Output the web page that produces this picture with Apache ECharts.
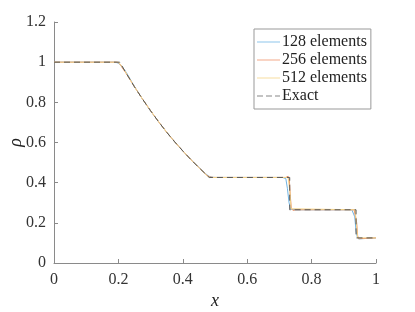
<!DOCTYPE html>
<html><head><meta charset="utf-8">
<script src="https://cdn.jsdelivr.net/npm/echarts@6/dist/echarts.min.js"></script>
<style>html,body{margin:0;padding:0;background:#fff}#c{width:415px;height:312px}</style>
</head><body><div id="c"></div>
<script>
var seriesNames = ['128 elements', '256 elements', '512 elements', 'Exact'];
var xTicks = [0, 0.2, 0.4, 0.6, 0.8, 1];
var yTicks = [0, 0.2, 0.4, 0.6, 0.8, 1, 1.2];

var x128 = [0, 0.19, 0.2, 0.21, 0.225, 0.25, 0.275, 0.3, 0.325, 0.35, 0.375, 0.4, 0.425, 0.45, 0.47, 0.48, 0.49, 0.5, 0.71, 0.72, 0.725, 0.73, 0.735, 0.74, 0.75, 0.925, 0.93, 0.934, 0.938, 0.942, 0.946, 0.95, 1];
var y128 = [1, 1, 0.995, 0.982, 0.948, 0.878, 0.816, 0.757, 0.703, 0.651, 0.603, 0.558, 0.515, 0.476, 0.446, 0.433, 0.427, 0.426, 0.426, 0.42, 0.37, 0.3, 0.268, 0.262, 0.265, 0.265, 0.262, 0.23, 0.16, 0.13, 0.12, 0.126, 0.125];

var x256 = [0, 0.195, 0.203, 0.212, 0.225, 0.25, 0.275, 0.3, 0.325, 0.35, 0.375, 0.4, 0.425, 0.45, 0.475, 0.485, 0.495, 0.72, 0.727, 0.731, 0.734, 0.737, 0.742, 0.75, 0.932, 0.937, 0.94, 0.943, 0.946, 0.95, 1];
var y256 = [1, 1, 0.995, 0.972, 0.942, 0.877, 0.816, 0.758, 0.703, 0.651, 0.603, 0.558, 0.515, 0.475, 0.436, 0.428, 0.426, 0.426, 0.432, 0.41, 0.33, 0.272, 0.262, 0.265, 0.265, 0.27, 0.2, 0.135, 0.121, 0.125, 0.125];

var x512 = [0, 0.2, 0.206, 0.215, 0.225, 0.25, 0.275, 0.3, 0.325, 0.35, 0.375, 0.4, 0.425, 0.45, 0.478, 0.488, 0.727, 0.731, 0.733, 0.736, 0.74, 0.935, 0.938, 0.94, 0.943, 1];
var y512 = [1, 1, 0.996, 0.97, 0.943, 0.877, 0.816, 0.758, 0.703, 0.651, 0.603, 0.558, 0.515, 0.475, 0.43, 0.426, 0.426, 0.428, 0.35, 0.27, 0.265, 0.265, 0.268, 0.18, 0.125, 0.125];

var xExact = [0, 0.204, 0.225, 0.25, 0.275, 0.3, 0.325, 0.35, 0.375, 0.4, 0.425, 0.45, 0.482, 0.732, 0.732, 0.938, 0.938, 1];
var yExact = [1, 1, 0.943, 0.877, 0.816, 0.758, 0.703, 0.651, 0.603, 0.558, 0.515, 0.475, 0.426, 0.426, 0.265, 0.265, 0.125, 0.125];

function pairs(xs, ys) { return xs.map(function (x, i) { return [x, ys[i]]; }); }

var font = "'Liberation Serif', 'Times New Roman', 'DejaVu Serif', serif";
var axisCol = '#8a8a8a';
var solidIcon = 'path://M0,0H23V1H0Z';
var dashIcon = 'path://M0,0H6V1H0Z M9,0H15V1H9Z M18,0H23V1H18Z';
var chart = echarts.init(document.getElementById('c'), null, {renderer: 'canvas'});
chart.setOption({
  animation: false,
  backgroundColor: '#fff',
  grid: {left: 54, right: 39, top: 22, bottom: 49, outerBoundsMode: 'none', containLabel: false},
  legend: {
    orient: 'vertical', left: 254, top: 29,
    data: [
      {name: seriesNames[0], icon: solidIcon},
      {name: seriesNames[1], icon: solidIcon},
      {name: seriesNames[2], icon: solidIcon},
      {name: seriesNames[3], icon: dashIcon}
    ],
    backgroundColor: '#fff', borderColor: '#999', borderWidth: 1,
    padding: [5, 4, 5, 3], itemGap: 2, itemWidth: 23, itemHeight: 1,
    textStyle: {fontFamily: font, fontSize: 16, color: '#222', padding: [0, 0, 0, -3]}
  },
  xAxis: {
    type: 'value', min: 0, max: 1, interval: 0.2,
    name: 'x', nameLocation: 'middle', nameGap: 29, nameMoveOverlap: false,
    nameTextStyle: {fontFamily: font, fontSize: 18, fontStyle: 'italic', color: '#222'},
    axisLine: {lineStyle: {color: axisCol}},
    axisTick: {inside: true, length: 4, lineStyle: {color: axisCol}},
    axisLabel: {fontFamily: font, fontSize: 16, color: '#333', margin: 9,
      formatter: function (v) { return String(+v.toFixed(1)); }},
    splitLine: {show: false}
  },
  yAxis: {
    type: 'value', min: 0, max: 1.2, interval: 0.2,
    name: 'ρ', nameLocation: 'middle', nameGap: 29, nameRotate: 90, nameMoveOverlap: false,
    nameTextStyle: {fontFamily: font, fontSize: 18, fontStyle: 'italic', color: '#222'},
    axisLine: {show: true, lineStyle: {color: axisCol}},
    axisTick: {show: true, inside: true, length: 4, lineStyle: {color: axisCol}},
    axisLabel: {fontFamily: font, fontSize: 16, color: '#333', margin: 8,
      formatter: function (v) { return String(+v.toFixed(1)); }},
    splitLine: {show: false}
  },
  series: [
    {name: seriesNames[0], type: 'line', symbol: 'none', data: pairs(x128, y128),
      lineStyle: {color: '#6fb3e2', width: 1}, itemStyle: {color: '#8cc4ea'}},
    {name: seriesNames[1], type: 'line', symbol: 'none', data: pairs(x256, y256),
      lineStyle: {color: '#ec8f63', width: 1}, itemStyle: {color: '#f2a888'}},
    {name: seriesNames[2], type: 'line', symbol: 'none', data: pairs(x512, y512),
      lineStyle: {color: '#f3d48c', width: 1}, itemStyle: {color: '#f6dd9e'}},
    {name: seriesNames[3], type: 'line', symbol: 'none', data: pairs(xExact, yExact),
      lineStyle: {color: '#555', width: 1, type: [6, 4]}, itemStyle: {color: '#888'}}
  ]
});
</script></body></html>
